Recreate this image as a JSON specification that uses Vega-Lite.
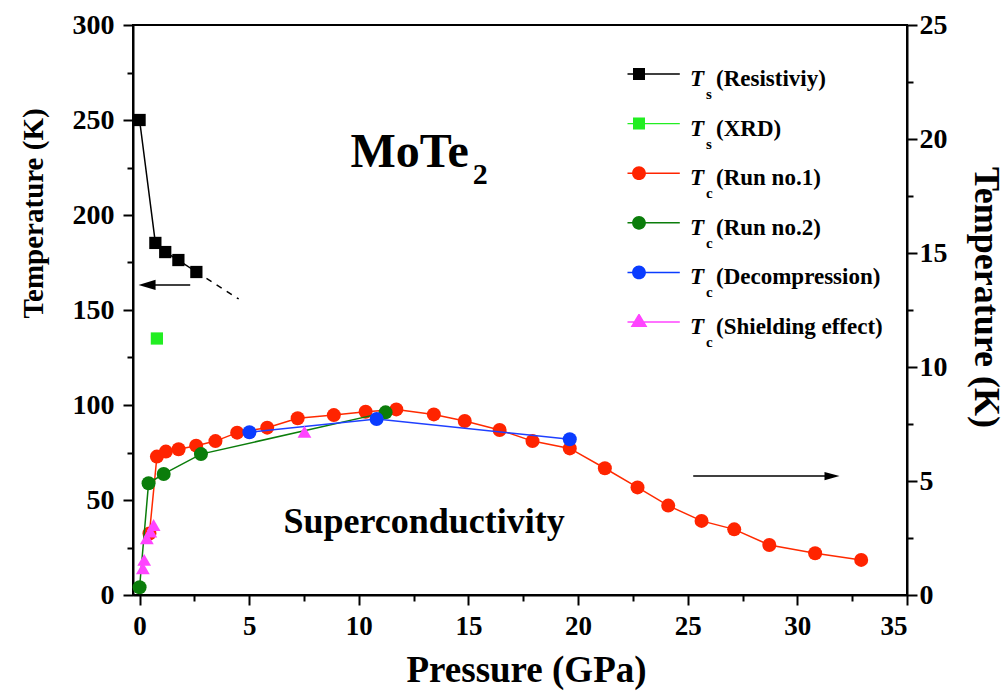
{
  "$schema": "https://vega.github.io/schema/vega-lite/v6.json",
  "width": 774,
  "height": 570,
  "autosize": {"type": "none"},
  "padding": {"left": 133, "top": 25, "right": 101, "bottom": 105},
  "background": "white",
  "config": {
    "view": {"stroke": "black", "strokeWidth": 2},
    "font": "Liberation Serif",
    "axis": {
      "grid": false, "domainColor": "black", "domainWidth": 2, "tickColor": "black", "tickWidth": 2,
      "labelFont": "Liberation Serif", "labelFontWeight": "bold", "labelColor": "black", "labelFontSize": 27,
      "titleFont": "Liberation Serif", "titleFontWeight": "bold", "titleColor": "black"
    },
    "legend": {"padding": 0, "labelFont": "Liberation Serif", "labelColor": "black", "labelLimit": 400}
  },
  "datasets": {
    "pts": [
      {"s": "res", "P": 0, "T": 250}, {"s": "res", "P": 0.72, "T": 185.3}, {"s": "res", "P": 1.17, "T": 180.5}, {"s": "res", "P": 1.77, "T": 176.3}, {"s": "res", "P": 2.59, "T": 170},
      {"s": "xrd", "P": 0.79, "T": 135},
      {"s": "r1", "P": 0.45, "T": 2.7}, {"s": "r1", "P": 0.79, "T": 6.07}, {"s": "r1", "P": 1.2, "T": 6.29}, {"s": "r1", "P": 1.78, "T": 6.39}, {"s": "r1", "P": 2.58, "T": 6.55},
      {"s": "r1", "P": 3.46, "T": 6.75}, {"s": "r1", "P": 4.45, "T": 7.12}, {"s": "r1", "P": 5.82, "T": 7.34}, {"s": "r1", "P": 7.21, "T": 7.75}, {"s": "r1", "P": 8.86, "T": 7.89},
      {"s": "r1", "P": 10.31, "T": 8.04}, {"s": "r1", "P": 11.71, "T": 8.14}, {"s": "r1", "P": 13.42, "T": 7.92}, {"s": "r1", "P": 14.83, "T": 7.63}, {"s": "r1", "P": 16.42, "T": 7.24},
      {"s": "r1", "P": 17.92, "T": 6.75}, {"s": "r1", "P": 19.62, "T": 6.43}, {"s": "r1", "P": 21.22, "T": 5.56}, {"s": "r1", "P": 22.71, "T": 4.72}, {"s": "r1", "P": 24.11, "T": 3.92},
      {"s": "r1", "P": 25.63, "T": 3.25}, {"s": "r1", "P": 27.12, "T": 2.88}, {"s": "r1", "P": 28.72, "T": 2.19}, {"s": "r1", "P": 30.81, "T": 1.83}, {"s": "r1", "P": 32.91, "T": 1.54},
      {"s": "r2", "P": 0, "T": 0.34}, {"s": "r2", "P": 0.41, "T": 4.9}, {"s": "r2", "P": 1.1, "T": 5.31}, {"s": "r2", "P": 2.8, "T": 6.18}, {"s": "r2", "P": 11.22, "T": 8.01},
      {"s": "dec", "P": 5.01, "T": 7.14}, {"s": "dec", "P": 10.81, "T": 7.72}, {"s": "dec", "P": 19.62, "T": 6.83},
      {"s": "sh", "P": 0.15, "T": 1.17}, {"s": "sh", "P": 0.21, "T": 1.54}, {"s": "sh", "P": 0.33, "T": 2.49}, {"s": "sh", "P": 0.49, "T": 2.78}, {"s": "sh", "P": 0.64, "T": 3.07}, {"s": "sh", "P": 7.52, "T": 7.16}
    ],
    "ann": [
      {"k": "dash", "P": 2.59, "T": 170}, {"k": "dash", "P": 4.52, "T": 155.8},
      {"k": "arrowL", "P": 0.34, "T": 163.2}, {"k": "arrowL", "P": 2.31, "T": 163.2},
      {"k": "arrowR", "P": 25.25, "T": 62.6}, {"k": "arrowR", "P": 31.58, "T": 62.6},
      {"k": "headL", "P": 0.34, "T": 163.2}, {"k": "headR", "P": 31.58, "T": 62.6}
    ],
    "txt": [
      {"k": "title", "label": "MoTe", "P": 9.62, "T": 225.4},
      {"k": "sub", "label": "2", "P": 15.2, "T": 216.5},
      {"k": "sc", "label": "Superconductivity", "P": 6.56, "T": 32.6}
    ]
  },
  "layer": [
    {
      "encoding": {
        "x": {"field": "P", "type": "quantitative", "scale": {"domain": [-0.3, 35], "nice": false, "zero": false},
          "axis": {"orient": "bottom", "values": [0, 5, 10, 15, 20, 25, 30, 35], "tickSize": 10, "labelPadding": 8,
            "title": "Pressure (GPa)", "titleFontSize": 37, "titleX": 393, "titleY": 86, "titleAlign": "center", "titleBaseline": "alphabetic"}},
        "y": {"field": "T", "type": "quantitative", "scale": {"domain": [0, 300], "nice": false},
          "axis": {"orient": "left", "values": [0, 50, 100, 150, 200, 250, 300], "tickSize": 10, "labelPadding": 9, "labelFontSize": 28,
            "title": "Temperature (K)", "titleFontSize": 29, "titleAngle": -90, "titleX": -100, "titleY": 188, "titleAlign": "center", "titleBaseline": "middle"}}
      },
      "layer": [
        {"data": {"name": "pts"}, "transform": [{"filter": "datum.s === 'res'"}], "mark": {"type": "line", "color": "black", "strokeWidth": 1.5}},
        {"data": {"name": "ann"}, "transform": [{"filter": "datum.k === 'dash'"}], "mark": {"type": "line", "color": "black", "strokeWidth": 1.5, "strokeDash": [6, 6]}},
        {"data": {"name": "ann"}, "transform": [{"filter": "datum.k === 'arrowL'"}], "mark": {"type": "line", "color": "black", "strokeWidth": 1.5}},
        {"data": {"name": "ann"}, "transform": [{"filter": "datum.k === 'arrowR'"}], "mark": {"type": "line", "color": "black", "strokeWidth": 1.5}},
        {"data": {"name": "ann"}, "transform": [{"filter": "datum.k === 'headL'"}], "mark": {"type": "point", "shape": "M-1,0L1,-0.6L1,0.6Z", "filled": true, "color": "black", "opacity": 1, "size": 289}},
        {"data": {"name": "ann"}, "transform": [{"filter": "datum.k === 'headR'"}], "mark": {"type": "point", "shape": "M1,0L-1,-0.55L-1,0.55Z", "filled": true, "color": "black", "opacity": 1, "size": 225}},
        {"data": {"name": "pts"}, "transform": [{"filter": "datum.s === 'res'"}], "mark": {"type": "point", "shape": "square", "filled": true, "color": "black", "opacity": 1, "size": 150}},
        {"data": {"name": "pts"}, "transform": [{"filter": "datum.s === 'xrd'"}], "mark": {"type": "point", "shape": "square", "filled": true, "color": "#22ee22", "opacity": 1, "size": 150}},
        {"data": {"name": "txt"}, "transform": [{"filter": "datum.k === 'title'"}], "mark": {"type": "text", "font": "Liberation Serif", "fontWeight": "bold", "fontSize": 48, "align": "left", "baseline": "alphabetic", "color": "black"}, "encoding": {"text": {"field": "label"}}},
        {"data": {"name": "txt"}, "transform": [{"filter": "datum.k === 'sub'"}], "mark": {"type": "text", "font": "Liberation Serif", "fontWeight": "bold", "fontSize": 30, "align": "left", "baseline": "alphabetic", "color": "black"}, "encoding": {"text": {"field": "label"}}},
        {"data": {"name": "txt"}, "transform": [{"filter": "datum.k === 'sc'"}], "mark": {"type": "text", "font": "Liberation Serif", "fontWeight": "bold", "fontSize": 36, "align": "left", "baseline": "alphabetic", "color": "black"}, "encoding": {"text": {"field": "label"}}}
      ]
    },
    {
      "data": {"name": "pts"},
      "transform": [{"filter": "false"}],
      "mark": {"type": "point", "opacity": 0},
      "encoding": {
        "x": {"field": "P", "type": "quantitative", "scale": {"domain": [-0.3, 35], "nice": false, "zero": false},
          "axis": {"orient": "bottom", "values": [2.5, 7.5, 12.5, 17.5, 22.5, 27.5, 32.5], "tickSize": 6, "labels": false, "domain": false, "title": null}},
        "y": {"field": "T", "type": "quantitative", "scale": {"domain": [0, 300], "nice": false},
          "axis": {"orient": "left", "values": [25, 75, 125, 175, 225, 275], "tickSize": 6, "labels": false, "domain": false, "title": null}}
      }
    },
    {
      "data": {"name": "pts"},
      "encoding": {
        "x": {"field": "P", "type": "quantitative", "scale": {"domain": [-0.3, 35], "nice": false, "zero": false}, "axis": null},
        "y": {"field": "T", "type": "quantitative", "scale": {"domain": [0, 25], "nice": false},
          "axis": {"orient": "right", "values": [0, 5, 10, 15, 20, 25], "tickSize": 10, "labelPadding": 2, "labelFontSize": 28,
            "title": "Temperature (K)", "titleFontSize": 36, "titleAngle": 90, "titleX": 78, "titleY": 272, "titleAlign": "center", "titleBaseline": "middle"}}
      },
      "layer": [
        {"transform": [{"filter": "datum.s === 'r1'"}], "mark": {"type": "line", "color": "#ff2a00", "strokeWidth": 1.5}},
        {"transform": [{"filter": "datum.s === 'r1'"}], "mark": {"type": "point", "shape": "circle", "filled": true, "color": "#ff2400", "opacity": 1, "size": 196}},
        {"transform": [{"filter": "datum.s === 'r2'"}], "mark": {"type": "line", "color": "#0b7d0b", "strokeWidth": 1.5}},
        {"transform": [{"filter": "datum.s === 'r2'"}], "mark": {"type": "point", "shape": "circle", "filled": true, "color": "#0b7d0b", "opacity": 1, "size": 196}},
        {"transform": [{"filter": "datum.s === 'dec'"}], "mark": {"type": "line", "color": "#1f40ff", "strokeWidth": 1.5}},
        {"transform": [{"filter": "datum.s === 'dec'"}], "mark": {"type": "point", "shape": "circle", "filled": true, "color": "#0a3cff", "opacity": 1, "size": 196}},
        {"transform": [{"filter": "datum.s === 'sh'"}], "mark": {"type": "point", "shape": "triangle-up", "filled": true, "color": "#ff44ff", "opacity": 1, "size": 190}}
      ]
    },
    {
      "data": {"name": "pts"},
      "transform": [{"filter": "false"}],
      "mark": {"type": "point", "opacity": 0},
      "encoding": {
        "y": {"field": "T", "type": "quantitative", "scale": {"domain": [0, 25], "nice": false},
          "axis": {"orient": "right", "values": [2.5, 7.5, 12.5, 17.5, 22.5], "tickSize": 6, "labels": false, "domain": false, "title": null}}
      }
    },
    {
      "data": {"name": "pts"},
      "transform": [{"filter": "false"}],
      "mark": {"type": "point", "filled": true},
      "encoding": {
        "color": {"field": "series", "type": "nominal",
          "scale": {"domain": ["Ts (Resistiviy)", "Ts (XRD)", "Tc (Run no.1)", "Tc (Run no.2)", "Tc (Decompression)", "Tc (Shielding effect)"],
            "range": ["black", "#22ee22", "#ff2400", "#0b7d0b", "#0a3cff", "#ff44ff"]},
          "legend": {"orient": "none", "legendX": 494.5, "legendY": 41, "title": null, "direction": "vertical", "symbolSize": 144, "symbolStrokeWidth": 0, "symbolOpacity": 1,
            "clipHeight": 26, "rowPadding": 23.6, "labelExpr": "'T'", "labelFontSize": 23, "labelFontWeight": "bold", "labelFontStyle": "italic", "labelOffset": 39.5}},
        "shape": {"field": "series", "type": "nominal",
          "scale": {"domain": ["Ts (Resistiviy)", "Ts (XRD)", "Tc (Run no.1)", "Tc (Run no.2)", "Tc (Decompression)", "Tc (Shielding effect)"],
            "range": [
              "M-6.8,-0.95H-0.5V-0.71H-6.8ZM0.5,-0.95H6.8V-0.71H0.5ZM-1,-1.83H1V0.17H-1Z",
              "M-6.8,-0.95H-0.5V-0.71H-6.8ZM0.5,-0.95H6.8V-0.71H0.5ZM-1,-1.83H1V0.17H-1Z",
              "M-6.8,-0.95H-0.5V-0.71H-6.8ZM0.5,-0.95H6.8V-0.71H0.5ZM-1.15,-0.83A1.15,1.15,0,1,1,1.15,-0.83A1.15,1.15,0,1,1,-1.15,-0.83Z",
              "M-6.8,-0.95H-0.5V-0.71H-6.8ZM0.5,-0.95H6.8V-0.71H0.5ZM-1.15,-0.83A1.15,1.15,0,1,1,1.15,-0.83A1.15,1.15,0,1,1,-1.15,-0.83Z",
              "M-6.8,-0.95H-0.5V-0.71H-6.8ZM0.5,-0.95H6.8V-0.71H0.5ZM-1.15,-0.83A1.15,1.15,0,1,1,1.15,-0.83A1.15,1.15,0,1,1,-1.15,-0.83Z",
              "M-6.8,-0.95H6.8V-0.71H-6.8ZM0,-2.33L1.4,0H-1.4Z"
            ]},
          "legend": {"orient": "none", "legendX": 494.5, "legendY": 41, "title": null, "direction": "vertical", "symbolSize": 144, "symbolStrokeWidth": 0, "symbolOpacity": 1,
            "clipHeight": 26, "rowPadding": 23.6, "labelExpr": "'T'", "labelFontSize": 23, "labelFontWeight": "bold", "labelFontStyle": "italic", "labelOffset": 39.5}},
        "stroke": {"field": "sub", "type": "nominal",
          "scale": {"domain": ["s1", "s2", "c1", "c2", "c3", "c4"], "range": ["black", "black", "black", "black", "black", "black"]},
          "legend": {"orient": "none", "legendX": 558, "legendY": 56, "title": null, "direction": "vertical", "symbolSize": 0, "symbolOpacity": 0, "symbolStrokeWidth": 0,
            "clipHeight": 26, "rowPadding": 23.6, "labelExpr": "substring(datum.label, 0, 1)", "labelFontSize": 15, "labelFontWeight": "bold", "labelOffset": 0}},
        "strokeDash": {"field": "lab", "type": "nominal",
          "scale": {"domain": ["(Resistiviy)", "(XRD)", "(Run no.1)", "(Run no.2)", "(Decompression)", "\u00a0(Shielding effect)"], "range": [[1, 0], [1, 0], [1, 0], [1, 0], [1, 0], [1, 0]]},
          "legend": {"orient": "none", "legendX": 560, "legendY": 41, "title": null, "direction": "vertical", "symbolSize": 0, "symbolOpacity": 0, "symbolStrokeWidth": 0,
            "clipHeight": 26, "rowPadding": 23.6, "labelFontSize": 23, "labelFontWeight": "bold", "labelOffset": 0}}
      }
    }
  ],
  "resolve": {"scale": {"y": "independent"}, "axis": {"x": "independent", "y": "independent"}}
}
